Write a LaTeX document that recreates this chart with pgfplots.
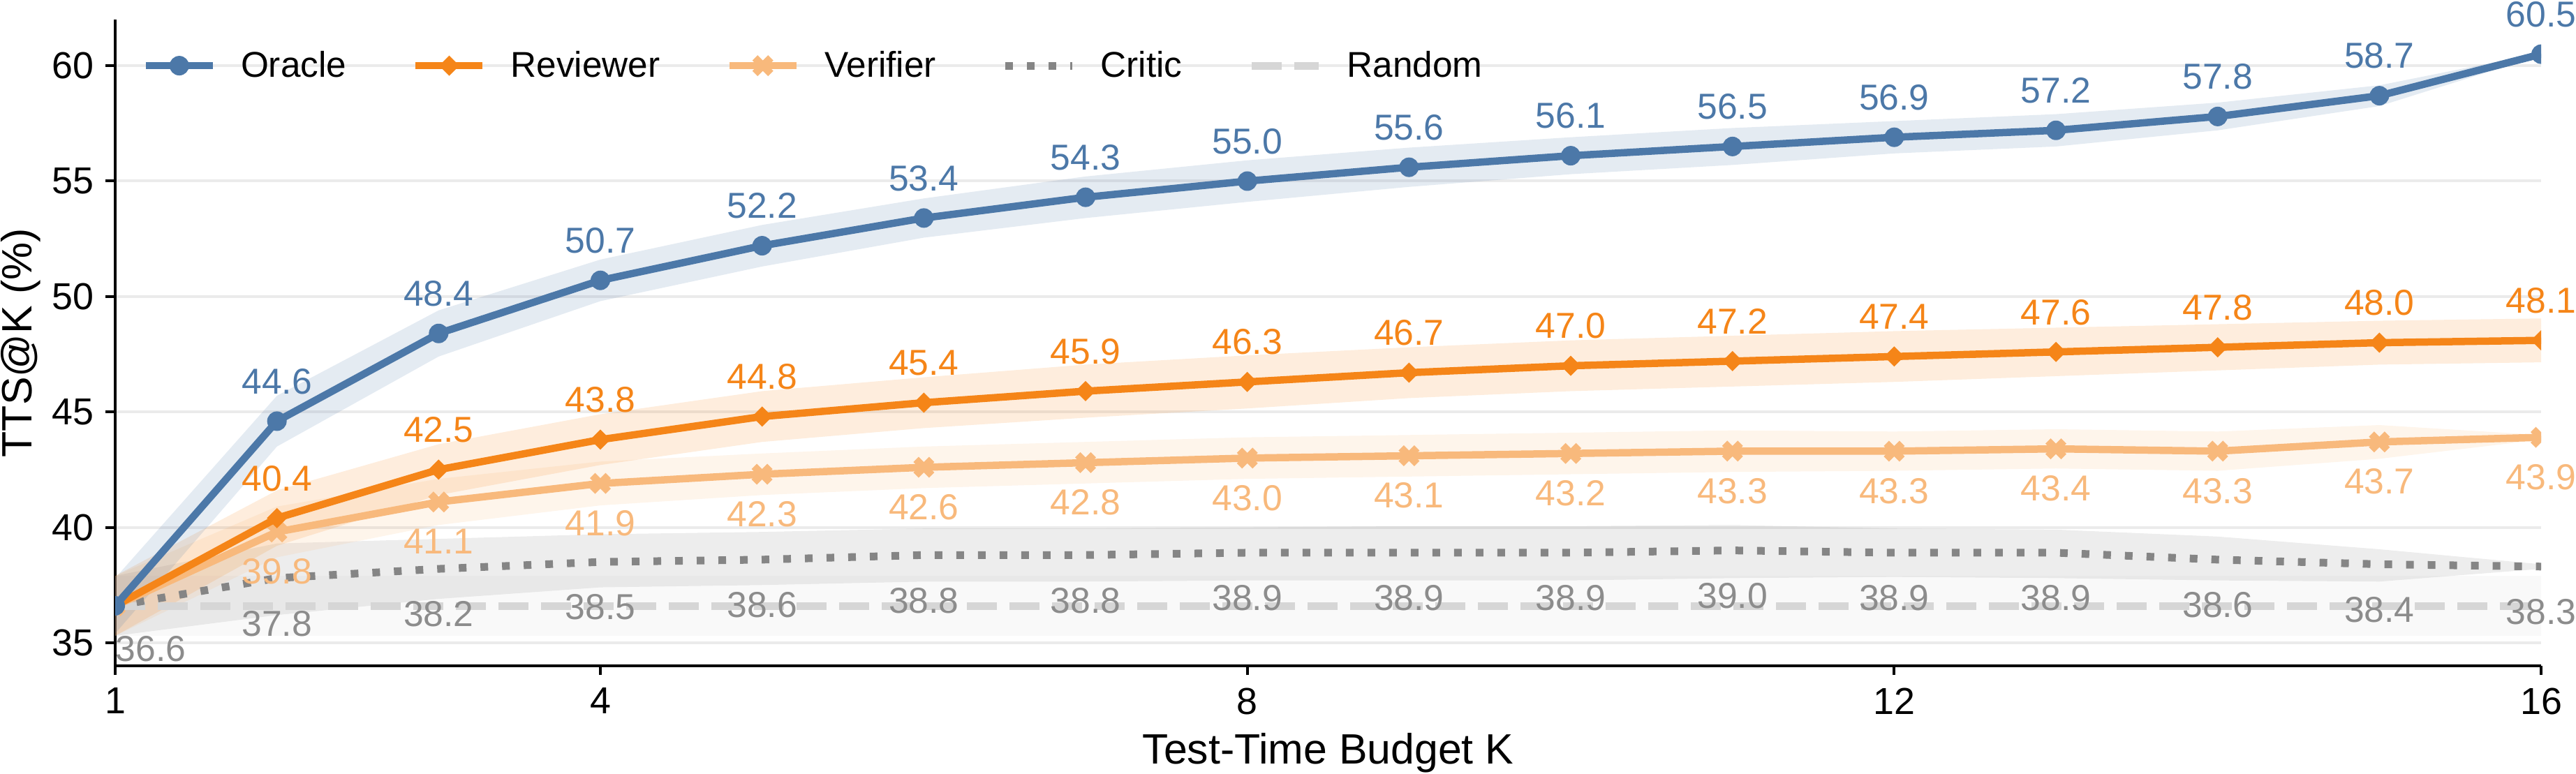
\documentclass[border=0pt]{standalone}
\usepackage{fontspec}
\setmainfont{Liberation Sans}
\usepackage{pgfplots}
\pgfplotsset{compat=1.18}
\usepackage{pgfplotstable}
\usepgfplotslibrary{fillbetween}

\definecolor{oracle}{HTML}{4C78A8}
\definecolor{reviewer}{HTML}{F58518}
\definecolor{verifier}{HTML}{F8B97C}
\definecolor{critic}{HTML}{858585}
\definecolor{random}{HTML}{D6D6D6}
\definecolor{criticlab}{HTML}{8C8C8C}
\definecolor{gridgray}{HTML}{EBEBEB}

% filled marks (no outline)
\pgfdeclareplotmark{fdot}{\pgfpathcircle{\pgfpointorigin}{\pgfplotmarksize}\pgfusepathqfill}
\pgfdeclareplotmark{fdiamond}{%
  \pgfpathmoveto{\pgfqpoint{0pt}{\pgfplotmarksize}}%
  \pgfpathlineto{\pgfqpoint{\pgfplotmarksize}{0pt}}%
  \pgfpathlineto{\pgfqpoint{0pt}{-\pgfplotmarksize}}%
  \pgfpathlineto{\pgfqpoint{-\pgfplotmarksize}{0pt}}%
  \pgfpathclose\pgfusepathqfill}
\pgfdeclareplotmark{fcross}{%
  \pgfpathmoveto{\pgfqpoint{.5\pgfplotmarksize}{-\pgfplotmarksize}}%
  \pgfpathlineto{\pgfqpoint{\pgfplotmarksize}{-.5\pgfplotmarksize}}%
  \pgfpathlineto{\pgfqpoint{.5\pgfplotmarksize}{0pt}}%
  \pgfpathlineto{\pgfqpoint{\pgfplotmarksize}{.5\pgfplotmarksize}}%
  \pgfpathlineto{\pgfqpoint{.5\pgfplotmarksize}{\pgfplotmarksize}}%
  \pgfpathlineto{\pgfqpoint{0pt}{.5\pgfplotmarksize}}%
  \pgfpathlineto{\pgfqpoint{-.5\pgfplotmarksize}{\pgfplotmarksize}}%
  \pgfpathlineto{\pgfqpoint{-\pgfplotmarksize}{.5\pgfplotmarksize}}%
  \pgfpathlineto{\pgfqpoint{-.5\pgfplotmarksize}{0pt}}%
  \pgfpathlineto{\pgfqpoint{-\pgfplotmarksize}{-.5\pgfplotmarksize}}%
  \pgfpathlineto{\pgfqpoint{-.5\pgfplotmarksize}{-\pgfplotmarksize}}%
  \pgfpathlineto{\pgfqpoint{0pt}{-.5\pgfplotmarksize}}%
  \pgfpathclose\pgfusepathqfill}

% x = budget K, y = mean TTS@K, lo/hi = shaded band
\pgfplotstableread{
x y lo hi
1 36.6 35.4 37.8
2 44.6 43.5 45.7
3 48.4 47.4 49.4
4 50.7 49.8 51.6
5 52.2 51.3 53.1
6 53.4 52.55 54.25
7 54.3 53.4 55.2
8 55.0 54.1 55.9
9 55.6 54.75 56.45
10 56.1 55.3 56.9
11 56.5 55.7 57.3
12 56.9 56.2 57.6
13 57.2 56.5 57.9
14 57.8 57.2 58.4
15 58.7 58.25 59.15
16 60.5 60.45 60.55
}\oracle
\pgfplotstableread{
x y lo hi
1 36.6 35.3 37.9
2 40.4 39.2 41.6
3 42.5 41.4 43.6
4 43.8 42.7 44.9
5 44.8 43.7 45.9
6 45.4 44.3 46.5
7 45.9 44.75 47.05
8 46.3 45.15 47.45
9 46.7 45.6 47.8
10 47.0 45.9 48.1
11 47.2 46.1 48.3
12 47.4 46.3 48.5
13 47.6 46.55 48.65
14 47.8 46.8 48.8
15 48.0 47.05 48.95
16 48.1 47.15 49.05
}\reviewer
\pgfplotstableread{
x y lo hi
1 36.6 35.3 37.9
2 39.8 38.7 40.9
3 41.1 40.1 42.1
4 41.9 40.95 42.85
5 42.3 41.4 43.2
6 42.6 41.7 43.5
7 42.8 41.9 43.7
8 43.0 42.1 43.9
9 43.1 42.2 44.0
10 43.2 42.3 44.1
11 43.3 42.4 44.2
12 43.3 42.45 44.15
13 43.4 42.55 44.25
14 43.3 42.45 44.15
15 43.7 42.97 44.43
16 43.9 43.8 44.0
}\verifier
\pgfplotstableread{
x y lo hi
1 36.6 35.3 37.9
2 37.8 36.2 39.3
3 38.2 36.9 39.5
4 38.5 37.4 39.7
5 38.6 37.5 39.8
6 38.8 37.65 39.95
7 38.8 37.65 39.95
8 38.9 37.7 40.0
9 38.9 37.7 40.05
10 38.9 37.7 40.05
11 39.0 37.8 40.1
12 38.9 37.85 39.95
13 38.9 37.8 39.9
14 38.6 37.7 39.6
15 38.4 37.65 39.05
16 38.3 38.2 38.4
}\critic
\pgfplotstableread{
x y lo hi
1 36.6 35.3 37.9
2 36.6 35.3 37.9
4 36.6 35.3 37.9
8 36.6 35.3 37.9
12 36.6 35.3 37.9
16 36.6 35.3 37.9
}\random

\pgfplotsset{
  oraclestyle/.style={color=oracle, line width=1.05mm, line join=round, mark=fdot, mark size=1.4mm},
  reviewerstyle/.style={color=reviewer, line width=1.05mm, line join=round, mark=fdiamond, mark size=1.45mm},
  verifierstyle/.style={color=verifier, line width=1.05mm, line join=round, mark=fcross, mark size=1.5mm},
  criticstyle/.style={color=critic, line width=1.1mm, dash pattern=on 1.1mm off 2.0mm, mark=none},
  randomstyle/.style={color=random, line width=1.1mm, dash pattern=on 4.3mm off 1.8mm, mark=none},
  base/.style={
    scale only axis, width=347.5mm, height=92.6mm,
    xmin=1, xmax=16, ymin=34, ymax=62,
  },
  vlab/.style 2 args={draw=none, mark=none, point meta=y,
    nodes near coords={\pgfmathprintnumber[fixed,fixed zerofill,precision=1]{\pgfplotspointmeta}},
    every node near coord/.style={text=#1, anchor=center, inner sep=0pt, yshift=#2,
      font=\fontsize{14.7}{16}\selectfont}},
}
\pgfkeys{/pgf/number format/assume math mode=true}

\begin{document}
\begin{tikzpicture}
\begin{axis}[base, name=ax,
  axis x line*=bottom, axis y line*=left,
  axis line style={black, line width=0.38mm, -},
  xtick={1,4,8,12,16}, ytick={35,40,...,60},
  tick align=outside, major tick length=1.35mm,
  tick style={black, line width=0.4mm},
  ymajorgrids, major grid style={gridgray, line width=0.4mm},
  tick label style={font=\fontsize{15.3}{17}\selectfont, inner sep=0pt},
  xticklabel style={anchor=north, yshift=-1.75mm},
  yticklabel style={anchor=east, xshift=-1.65mm},
  xlabel={Test-Time Budget K}, ylabel={TTS@K (\%)},
  every axis x label/.style={at={(axis description cs:0.5,0)}, anchor=base, yshift=-14.1mm,
    font=\fontsize{17.3}{19}\selectfont},
  every axis y label/.style={at={(axis description cs:-0.0388,0.5)}, anchor=center, rotate=90,
    font=\fontsize{17.3}{19}\selectfont},
  clip marker paths=true,
  legend columns=-1,
  legend image code/.code={\draw[mark repeat=2,mark phase=2] plot coordinates {(0mm,0mm) (4.8mm,0mm) (9.6mm,0mm)};},
  legend style={at={(0.0109,0.9286)}, anchor=west, draw=none, fill=none, inner sep=0pt,
    font=\fontsize{14.6}{16}\selectfont, nodes={inner sep=0pt},
    /tikz/every odd column/.append style={column sep=3.5mm},
    /tikz/every even column/.append style={column sep=9.4mm}},
  legend cell align=left,
]
\addlegendimage{oraclestyle}
\addlegendimage{reviewerstyle}
\addlegendimage{verifierstyle}
\addlegendimage{criticstyle}
\addlegendimage{randomstyle}

% shaded bands
\addplot[name path=rhi, draw=none, forget plot] table[x=x,y=hi]{\random};
\addplot[name path=rlo, draw=none, forget plot] table[x=x,y=lo]{\random};
\addplot[random, fill opacity=0.15, draw=none, forget plot] fill between[of=rhi and rlo];
\addplot[name path=chi, draw=none, forget plot] table[x=x,y=hi]{\critic};
\addplot[name path=clo, draw=none, forget plot] table[x=x,y=lo]{\critic};
\addplot[critic, fill opacity=0.15, draw=none, forget plot] fill between[of=chi and clo];
\addplot[name path=vhi, draw=none, forget plot] table[x=x,y=hi]{\verifier};
\addplot[name path=vlo, draw=none, forget plot] table[x=x,y=lo]{\verifier};
\addplot[verifier, fill opacity=0.15, draw=none, forget plot] fill between[of=vhi and vlo];
\addplot[name path=wvhi, draw=none, forget plot] table[x=x,y=hi]{\reviewer};
\addplot[name path=wvlo, draw=none, forget plot] table[x=x,y=lo]{\reviewer};
\addplot[reviewer, fill opacity=0.15, draw=none, forget plot] fill between[of=wvhi and wvlo];
\addplot[name path=ohi, draw=none, forget plot] table[x=x,y=hi]{\oracle};
\addplot[name path=olo, draw=none, forget plot] table[x=x,y=lo]{\oracle};
\addplot[oracle, fill opacity=0.15, draw=none, forget plot] fill between[of=ohi and olo];

% mean curves
\addplot[randomstyle, forget plot] table[x=x,y=y]{\random};
\addplot[criticstyle, forget plot] table[x=x,y=y]{\critic};
\addplot[verifierstyle, forget plot] table[x=x,y=y]{\verifier};
\addplot[reviewerstyle, forget plot] table[x=x,y=y]{\reviewer};
\addplot[oraclestyle, forget plot] table[x=x,y=y]{\oracle};

\legend{Oracle,Reviewer,Verifier,Critic,Random}
\end{axis}

% value labels, unclipped
\begin{axis}[base, hide axis, clip=false]
\addplot[vlab={oracle}{5.7mm}, restrict x to domain=2:16] table[x=x,y=y]{\oracle};
\addplot[vlab={reviewer}{5.7mm}, restrict x to domain=2:16] table[x=x,y=y]{\reviewer};
\addplot[vlab={verifier}{-5.7mm}, restrict x to domain=2:16] table[x=x,y=y]{\verifier};
\addplot[vlab={criticlab}{-6.5mm}, restrict x to domain=2:16] table[x=x,y=y]{\critic};
\addplot[vlab={criticlab}{-6.2mm}, restrict x to domain=1:1,
  every node near coord/.append style={anchor=west}] table[x=x,y=y]{\critic};
\end{axis}

\pgfresetboundingbox
\path[use as bounding box] ([xshift=-16.5mm,yshift=-15.5mm]ax.south west) rectangle ([xshift=5mm,yshift=2.8mm]ax.north east);
\end{tikzpicture}
\end{document}
